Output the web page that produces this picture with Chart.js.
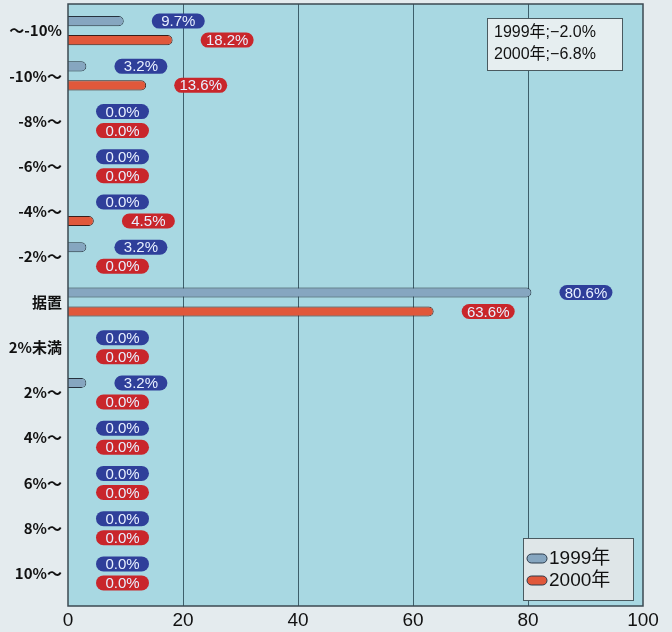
<!DOCTYPE html>
<html>
<head>
<meta charset="utf-8">
<script src="https://cdn.jsdelivr.net/npm/chart.js@4.4.1/dist/chart.umd.min.js"></script>
<style>
  html, body { margin: 0; padding: 0; background: #e4ebee; }
  #wrap { width: 672px; height: 632px; }
</style>
</head>
<body>
<div id="wrap"><canvas id="chart" width="672" height="632"></canvas></div>
<script>
// data
const categories = ['～-10%', '-10%～', '-8%～', '-6%～', '-4%～', '-2%～', '据置', '2%未満', '2%～', '4%～', '6%～', '8%～', '10%～'];
const values1999 = [9.7, 3.2, 0, 0, 0, 3.2, 80.6, 0, 3.2, 0, 0, 0, 0];
const values2000 = [18.2, 13.6, 0, 0, 4.5, 0, 63.6, 0, 0, 0, 0, 0, 0];
const seriesNames = ['1999年', '2000年'];
const averageNotes = ['1999年;−2.0%', '2000年;−6.8%'];
const xTicks = [0, 20, 40, 60, 80, 100];

const barColors = ['#86a6c0', '#e0583b'];
const pillColors = ['#2f3f9a', '#c9262b'];
const plotBg = '#a8d8e2';

// rounded rect helper
function pill(ctx, x, y, w, h, r) {
  ctx.beginPath();
  ctx.moveTo(x + r, y);
  ctx.lineTo(x + w - r, y);
  ctx.arc(x + w - r, y + r, r, -Math.PI / 2, Math.PI / 2);
  ctx.lineTo(x + r, y + h);
  ctx.arc(x + r, y + r, r, Math.PI / 2, Math.PI * 1.5);
  ctx.closePath();
}

// background, frame and grid lines (frame runs a bit past the category area)
const framePlugin = {
  id: 'frame',
  beforeDraw(chart) {
    const { ctx, chartArea, scales } = chart;
    const top = chartArea.top - 4, bottom = chartArea.bottom + 10;
    ctx.save();
    ctx.fillStyle = '#e4ebee';
    ctx.fillRect(0, 0, chart.width, chart.height);
    ctx.fillStyle = plotBg;
    ctx.fillRect(chartArea.left, top, chartArea.right - chartArea.left, bottom - top);
    ctx.strokeStyle = '#3d5f6b';
    ctx.lineWidth = 1;
    [20, 40, 60, 80].forEach(v => {
      const x = Math.round(scales.x.getPixelForValue(v)) + 0.5;
      ctx.beginPath();
      ctx.moveTo(x, top);
      ctx.lineTo(x, bottom);
      ctx.stroke();
    });
    ctx.restore();
  },
  afterDraw(chart) {
    const { ctx, chartArea } = chart;
    const top = chartArea.top - 4, bottom = chartArea.bottom + 10;
    ctx.save();
    ctx.strokeStyle = '#3b4a52';
    ctx.lineWidth = 1.5;
    ctx.strokeRect(chartArea.left, top, chartArea.right - chartArea.left, bottom - top);
    ctx.restore();
  }
};

// value badges, legend box and average note
const labelPlugin = {
  id: 'badges',
  afterDatasetsDraw(chart) {
    const { ctx, scales } = chart;
    ctx.save();
    ctx.font = '15px "Liberation Sans", Arial, sans-serif';
    ctx.textAlign = 'center';
    ctx.textBaseline = 'middle';
    chart.data.datasets.forEach((ds, di) => {
      const meta = chart.getDatasetMeta(di);
      meta.data.forEach((bar, i) => {
        const v = ds.data[i];
        const px = scales.x.getPixelForValue(v);
        const left = Math.max(px + 28, scales.x.left + 24);
        const w = 53, h = 15;
        pill(ctx, left, bar.y - h / 2, w, h, h / 2);
        ctx.fillStyle = pillColors[di];
        ctx.fill();
        ctx.fillStyle = '#e8f0ff';
        ctx.fillText(v.toFixed(1) + '%', left + w / 2, bar.y + 1);
      });
    });

    // legend box
    const lx = 523, ly = 538, lw = 110, lh = 62;
    ctx.fillStyle = '#dfe6e8';
    ctx.fillRect(lx, ly, lw, lh);
    ctx.strokeStyle = '#4a5a60';
    ctx.lineWidth = 1;
    ctx.strokeRect(lx + 0.5, ly + 0.5, lw, lh);
    ctx.font = '19px "Liberation Sans", "Noto Sans CJK JP", sans-serif';
    ctx.textAlign = 'left';
    seriesNames.forEach((name, i) => {
      const y = ly + 20 + i * 22;
      pill(ctx, lx + 4, y - 4, 20, 9, 4.5);
      ctx.fillStyle = barColors[i];
      ctx.fill();
      ctx.strokeStyle = '#2a3a4a';
      ctx.stroke();
      ctx.fillStyle = '#111';
      ctx.fillText(name, lx + 26, y + 1);
    });

    // average note box
    const nx = 487, ny = 18, nw = 135, nh = 52;
    ctx.fillStyle = '#e6eef0';
    ctx.fillRect(nx, ny, nw, nh);
    ctx.strokeStyle = '#4a5a60';
    ctx.strokeRect(nx + 0.5, ny + 0.5, nw, nh);
    ctx.font = '16px "Liberation Sans", "Noto Sans CJK JP", sans-serif';
    ctx.fillStyle = '#111';
    averageNotes.forEach((t, i) => {
      ctx.fillText(t, nx + 7, ny + 15 + i * 22);
    });
    ctx.restore();
  }
};

new Chart(document.getElementById('chart').getContext('2d'), {
  type: 'bar',
  data: {
    labels: categories,
    datasets: [
      {
        label: seriesNames[0],
        data: values1999,
        backgroundColor: barColors[0],
        borderColor: '#26323e',
        borderWidth: 1,
        borderRadius: 5,
        borderSkipped: 'start',
        categoryPercentage: 0.84,
        barPercentage: 0.53
      },
      {
        label: seriesNames[1],
        data: values2000,
        backgroundColor: barColors[1],
        borderColor: '#3a1e1a',
        borderWidth: 1,
        borderRadius: 5,
        borderSkipped: 'start',
        categoryPercentage: 0.84,
        barPercentage: 0.53
      }
    ]
  },
  options: {
    indexAxis: 'y',
    responsive: false,
    animation: false,
    layout: { padding: { top: 0, right: 29, left: 0, bottom: 0 } },
    plugins: {
      legend: { display: false },
      tooltip: { enabled: false }
    },
    scales: {
      x: {
        min: 0,
        max: 100,
        afterBuildTicks: (scale) => { scale.ticks = xTicks.map(v => ({ value: v })); },
        afterFit: (scale) => { scale.height = 36; },
        grid: { display: false, drawTicks: false },
        border: { display: false },
        ticks: {
          padding: 13,
          color: '#111',
          font: { family: '"Liberation Sans", Arial, sans-serif', size: 19 }
        }
      },
      y: {
        afterFit: (scale) => {
          scale.width = 68;
          scale.paddingTop = 8;
          scale.paddingBottom = 0;
        },
        grid: { display: false, drawTicks: false },
        border: { display: false },
        ticks: {
          padding: 6,
          color: '#111',
          font: { family: '"Noto Sans CJK JP", sans-serif', size: 15, weight: 'bold' }
        }
      }
    }
  },
  plugins: [framePlugin, labelPlugin]
});
</script>
</body>
</html>
